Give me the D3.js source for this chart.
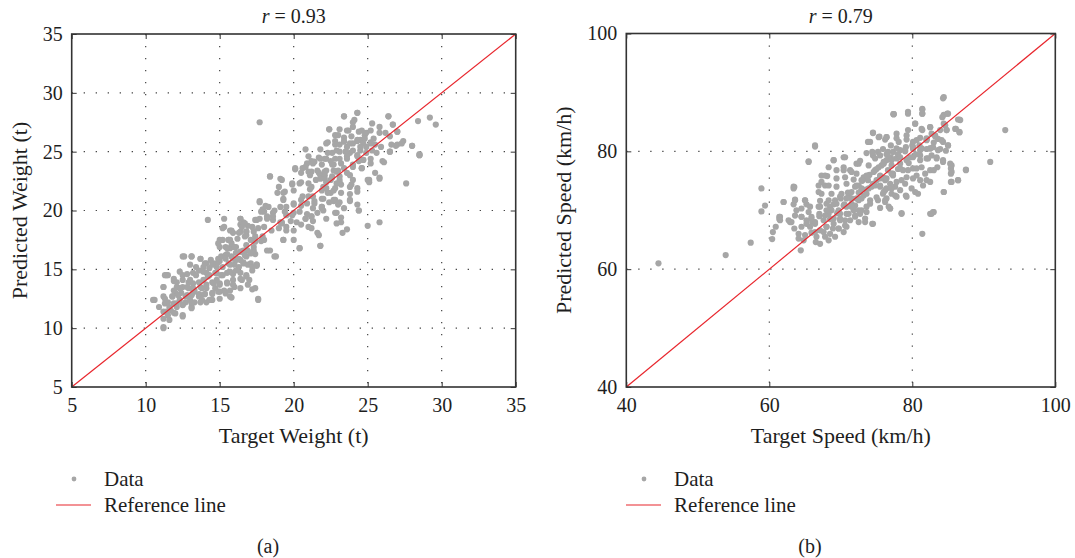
<!DOCTYPE html>
<html><head><meta charset="utf-8">
<script src="https://cdn.jsdelivr.net/npm/d3@7/dist/d3.min.js"></script>
<style>body{margin:0;background:#fff}svg{display:block}text{font-family:"Liberation Serif","Times New Roman",serif;fill:#1e1e1e}</style>
</head><body><svg id="c" width="1075" height="558"></svg>
<script>
// Panel (a): weight  [target, predicted]
const aTicks = [5,10,15,20,25,30,35];
const aPts = [
[17.7,27.5],[24.3,28.3],[23.4,28.0],[26.4,28.0],[29.2,27.9],[29.6,27.3],[28.4,27.6],[24.0,27.5],[25.3,27.4],[26.7,27.3],
[22.4,26.9],[23.1,26.9],[23.7,26.8],[24.4,26.7],[25.2,26.8],[24.8,26.4],[25.8,26.6],[27.0,26.7],[22.8,26.4],[23.4,26.2],
[24.5,26.0],[25.4,26.1],[26.5,26.3],[27.4,25.9],[28.0,25.5],[28.5,24.8],[27.0,25.6],[26.5,25.0],[26.0,24.2],[25.6,24.9],
[25.2,24.4],[22.3,25.8],[21.8,25.2],[23.1,25.6],[23.6,25.4],[24.0,25.7],[24.5,25.1],[24.9,25.4],[23.1,25.0],[23.8,24.9],
[24.3,24.6],[24.7,24.3],[24.6,23.6],[24.0,23.9],[22.6,24.9],[22.2,24.4],[21.7,24.5],[20.8,25.2],[21.2,24.2],[20.9,24.0],
[21.3,24.0],[20.6,23.6],[20.1,23.5],[21.2,23.3],[21.9,23.9],[22.2,23.4],[21.8,23.0],[22.9,23.3],[23.2,24.0],[23.6,23.2],
[22.6,22.8],[22.2,22.4],[21.5,22.6],[21.0,22.3],[20.5,22.4],[19.9,22.2],[19.2,22.6],[18.4,22.9],[19.0,22.0],[19.3,21.5],
[20.0,21.7],[21.1,21.8],[22.0,22.0],[22.9,22.3],[23.2,21.5],[22.5,21.5],[21.9,21.0],[21.3,21.2],[20.6,21.2],[23.8,22.0],
[24.3,21.9],[23.8,21.4],[25.1,22.6],[25.1,22.4],[25.8,22.8],[27.6,22.3],[23.8,20.8],[24.3,20.5],[24.4,20.0],[23.4,20.2],
[22.7,20.8],[21.9,20.3],[22.0,20.0],[21.3,20.2],[20.9,20.6],[20.5,20.4],[20.0,20.5],[19.5,20.3],[19.5,19.6],[20.0,19.8],
[20.4,19.9],[20.9,19.7],[21.2,19.5],[21.6,19.8],[21.3,19.1],[21.0,18.6],[22.2,19.3],[22.9,19.8],[23.2,19.4],[22.9,18.9],
[23.6,18.4],[23.3,18.1],[25.0,18.7],[25.8,19.0],[21.6,18.1],[21.8,17.0],[20.4,16.8],[19.3,17.5],[20.0,18.3],[19.5,18.6],
[19.2,18.9],[18.6,19.2],[18.6,19.8],[18.2,19.5],[19.1,20.3],[19.3,20.9],[18.9,21.5],[18.1,20.4],[17.7,20.8],[18.0,19.9],
[17.7,19.3],[17.4,19.2],[18.0,18.6],[18.5,18.3],[18.4,16.6],[18.8,16.1],[17.8,17.4],[18.0,17.5],[17.4,17.8],[17.3,18.2],
[16.8,17.9],[17.1,17.5],[17.3,16.9],[17.4,16.3],[16.9,16.6],[16.8,16.1],[16.4,19.3],[16.6,19.0],[16.4,18.8],[16.9,18.7],
[16.8,18.2],[16.4,18.2],[15.9,18.1],[15.7,18.3],[15.3,19.3],[15.3,18.6],[14.2,19.2],[15.2,17.5],[15.6,17.5],[15.0,16.9],
[15.4,16.9],[15.7,16.8],[16.1,16.9],[16.1,16.4],[16.5,16.5],[15.5,16.3],[15.1,16.1],[15.0,15.7],[15.9,15.9],[16.3,15.9],
[16.6,15.6],[17.1,15.5],[17.5,15.3],[17.2,14.9],[16.3,15.2],[16.0,15.4],[15.6,15.5],[15.2,15.2],[14.8,15.2],[14.6,15.5],
[14.1,15.5],[13.7,15.9],[13.1,16.1],[12.6,16.1],[13.9,15.2],[14.3,15.1],[13.6,14.9],[13.2,14.7],[14.1,14.7],[14.7,14.7],
[15.1,14.5],[15.5,14.7],[15.9,14.6],[16.4,14.7],[16.8,14.4],[16.5,14.1],[16.9,13.7],[17.2,13.3],[17.6,12.4],[15.9,14.1],
[15.5,13.9],[16.0,13.5],[15.7,13.2],[15.3,13.2],[15.0,13.8],[14.8,14.1],[14.5,13.9],[14.2,14.4],[13.9,14.1],[13.6,13.9],
[13.2,13.8],[12.9,13.9],[12.5,14.1],[12.1,13.9],[12.1,13.5],[12.5,13.5],[12.9,13.4],[13.3,13.2],[13.8,13.4],[14.1,13.4],
[14.7,13.4],[15.0,13.1],[14.5,13.0],[14.0,12.9],[13.7,12.8],[13.2,13.0],[12.8,12.8],[12.4,13.0],[12.0,13.0],[11.8,12.7],
[11.5,14.5],[11.3,14.5],[11.2,13.5],[11.2,12.7],[10.6,12.4],[10.9,11.8],[11.3,12.1],[11.5,12.2],[11.9,12.1],[12.3,12.4],
[12.7,12.2],[13.0,12.4],[13.3,12.2],[13.8,12.4],[14.1,12.2],[14.5,12.4],[13.6,12.7],[13.1,11.8],[12.5,12.0],[12.1,11.8],
[11.7,11.5],[11.4,11.4],[11.9,11.3],[12.5,11.0],[11.6,10.7],[11.2,10.8],[11.2,10.0],[15.8,12.6],[22.8,25.9],[23.4,25.9],
[23.9,26.3],[24.3,25.9],[24.7,25.7],[25.2,25.8],[25.5,25.6],[25.3,25.1],[24.4,24.2],[23.6,24.4],[22.8,24.4],[22.7,23.9],
[22.1,23.0],[21.6,23.4],[21.0,23.3],[23.1,22.6],[22.8,21.9],[24.0,22.6],[20.8,19.3],[20.2,19.0],[20.5,18.8],[19.8,19.1],
[22.4,20.7],[23.0,20.5],[17.9,17.8],[17.6,18.5],[15.8,17.2],[16.2,17.6],[14.9,17.2],[15.4,16.2],[14.4,15.8],[13.4,15.2],
[12.8,14.6],[12.3,14.8],[11.9,14.0],[13.0,15.4],[14.9,15.9],[16.7,16.2],[17.9,20.1],[19.1,19.0],[21.4,20.8],[24.9,24.9],
[25.9,25.4],[26.2,26.6],[26.9,25.5],[28.5,24.7],
[15.2,18.5],[16.5,18.6],[16.8,18.2],[15.0,17.5],[15.7,17.5],[15.5,16.8],[15.9,16.9],[16.4,16.5],[16.8,17.05],[17.3,16.6],
[12.5,16.1],[13.1,16.1],[13.7,15.9],[14.0,15.5],[14.5,15.4],[14.9,15.6],[15.4,15.9],[16.1,15.8],[16.6,15.5],[17.2,15.2],
[17.5,15.4],[11.4,14.5],[11.9,14.2],[12.5,14.5],[13.0,14.1],[13.4,14.5],[13.9,14.8],[14.3,14.5],[14.8,14.65],[15.2,14.5],
[15.7,14.8],[16.1,14.9],[16.4,14.2],[16.8,14.5],[17.0,14.1],[17.4,13.4],[16.4,13.4],[15.9,13.7],[15.5,13.8],[15.0,13.7],
[14.6,13.8],[14.1,13.7],[13.7,13.5],[13.2,13.4],[12.8,13.5],[12.3,13.4],[11.9,13.2],[11.2,13.5],[11.3,12.5],[10.5,12.4],
[11.8,12.7],[12.2,12.8],[12.7,12.7],[13.1,12.8],[13.6,12.9],[14.0,12.9],[14.5,12.9],[14.9,13.1],[15.4,12.95],[15.7,12.7],
[15.0,12.5],[14.3,12.4],[13.7,12.2],[13.1,12.1],[12.5,11.96],[12.1,12.1],[11.6,11.8],[11.2,11.4],[11.5,11.1],[12.0,11.25],
[12.5,11.1],[11.2,10.1],[13.1,11.7],[17.6,12.5],
[21.0,24.6],[21.4,24.15],[22.1,24.4],[22.6,23.9],[23.0,23.4],[20.8,23.7],[20.1,23.6],[20.5,23.2],[21.1,23.0],[21.7,23.2],
[22.1,22.7],[22.6,22.9],[23.1,22.4],[19.1,22.7],[18.4,22.9],[19.9,22.3],[20.4,22.3],[21.2,22.0],[21.9,21.7],[22.3,21.5],
[22.8,20.9],[19.4,21.6],[19.3,21.0],[20.0,20.6],[20.5,20.9],[21.0,21.2],[21.4,20.6],[21.9,20.2],[21.2,19.5],[20.8,19.3],
[19.9,19.6],[19.4,19.9],[18.7,20.0],[18.3,20.3],[17.7,20.7],[17.8,19.9],[17.5,19.2],[18.2,19.3],[18.6,19.5],[19.2,19.0],
[19.0,18.5],[19.5,18.3],[19.3,17.5],[20.0,17.5],[20.4,16.8],[18.7,16.1],[18.2,16.6],[17.4,17.35],[16.7,17.8],[16.3,18.1],
[15.8,18.3],[16.4,19.3],[16.7,18.9],[17.2,18.6],[15.6,17.5],[16.0,16.9],[16.6,16.6],[17.1,16.35],[15.8,16.1],[16.4,15.8],
[16.9,15.4],[17.5,15.4],[15.7,15.4],[21.2,18.5],[21.7,17.9],[21.8,17.0],[22.8,19.8],[23.2,19.0],
[23.4,28.0],[24.3,28.3],[24.1,27.7],[22.4,26.9],[23.0,26.4],[23.6,26.8],[24.0,27.1],[24.6,26.8],[24.9,26.6],[25.8,27.1],
[26.4,28.0],[26.7,27.3],[27.0,26.7],[22.2,25.7],[22.8,25.6],[23.4,25.85],[23.8,25.7],[24.3,26.0],[24.8,26.1],[25.2,25.7],
[24.5,25.4],[24.0,25.1],[23.5,25.0],[22.9,25.1],[22.3,24.9],[21.8,24.4],[22.5,24.2],[23.1,24.4],[23.6,24.6],[24.3,24.7],
[24.7,24.3],[25.2,24.0],[24.6,23.6],[24.0,23.7],[23.4,23.6],[22.7,23.4],[22.1,23.3],[21.8,22.7],[22.5,22.6],[23.1,22.9],
[23.8,23.0],[23.2,22.2],[22.7,21.7],[22.2,21.9],[23.9,22.2],[24.3,21.6],[23.8,20.9],[23.1,20.7],[22.7,20.9],[22.0,21.0],
[21.9,20.3],[24.4,20.0],[25.8,22.7],[26.6,25.6],[27.3,25.7],[28.0,25.5],[28.5,24.7],[26.1,24.1],[26.5,25.0],[25.5,23.2],
[25.0,22.6]
];
const aTarget = aPts.map(p => p[0]);
const aPred = aPts.map(p => p[1]);

// Panel (b): speed  [target, predicted]
const bTicks = [40,60,80,100];
const bPts = [
[44.5,61.0],[53.9,62.4],[57.4,64.5],[58.9,73.7],[59.4,70.8],[58.9,69.8],[60.4,65.1],[60.9,67.2],[61.4,68.9],[61.4,68.5],
[62.0,71.4],[62.9,68.0],[84.4,89.2],[81.4,87.2],[81.4,86.4],[79.4,86.7],[79.4,86.4],[77.4,86.3],[84.4,86.2],[84.9,86.4],
[86.4,85.4],[86.7,85.3],[86.0,83.8],[86.6,83.3],[80.4,84.7],[82.5,84.1],[81.3,83.8],[84.4,84.7],[83.9,83.6],[84.8,83.6],
[83.2,82.5],[79.4,83.6],[77.8,83.0],[76.4,82.4],[74.5,83.1],[75.4,82.5],[73.8,81.6],[75.9,80.4],[77.0,81.0],[78.1,81.6],
[79.2,82.0],[80.1,81.6],[81.1,82.3],[82.0,81.9],[82.7,83.0],[83.6,82.1],[84.3,81.6],[85.0,81.0],[84.7,80.1],[83.9,80.4],
[82.9,80.7],[82.0,80.4],[81.1,80.2],[80.1,80.4],[79.1,80.7],[78.3,80.2],[77.3,79.9],[76.4,79.5],[75.2,79.9],[74.5,79.3],
[73.6,79.7],[72.7,78.4],[72.2,77.9],[70.4,79.0],[69.0,78.5],[65.5,78.3],[66.4,80.8],[64.4,63.2],[63.4,74.0],[63.4,73.7],
[63.6,71.8],[65.0,71.7],[65.2,71.0],[63.6,69.1],[64.5,70.3],[65.7,70.6],[64.5,68.9],[65.2,68.3],[65.7,67.2],[64.5,67.2],
[63.1,68.0],[63.5,66.9],[64.1,66.0],[65.0,65.8],[65.9,66.2],[64.1,65.2],[64.8,64.9],[66.6,65.5],[67.1,66.6],[66.4,68.0],
[67.0,69.4],[67.1,70.6],[67.1,71.6],[67.3,72.8],[66.9,74.2],[67.3,75.9],[68.1,75.8],[67.8,74.2],[67.6,68.3],[68.0,67.2],
[66.5,64.6],[67.8,65.5],[68.5,66.0],[68.9,66.9],[68.3,69.4],[68.5,70.6],[69.2,71.7],[68.7,72.8],[69.4,74.0],[69.9,72.3],
[70.4,70.8],[69.9,69.4],[69.9,68.3],[69.7,66.9],[70.4,66.3],[69.2,65.5],[70.8,67.2],[71.3,68.3],[71.1,69.4],[71.8,70.0],
[71.5,71.1],[71.1,72.5],[70.8,74.5],[70.6,75.6],[71.8,75.2],[72.5,74.2],[72.7,73.1],[72.9,72.0],[72.2,72.0],[72.0,70.8],
[72.7,69.4],[73.4,68.0],[74.4,67.7],[73.6,69.7],[73.6,70.6],[74.1,71.7],[73.6,72.8],[74.3,74.0],[73.8,75.1],[73.2,75.6],
[72.2,76.2],[71.3,76.8],[70.4,77.3],[69.4,76.8],[68.3,77.3],[75.0,75.1],[75.5,75.9],[74.8,76.8],[75.7,77.6],[76.4,78.5],
[77.1,77.6],[77.8,78.8],[76.6,76.8],[77.3,75.9],[76.2,75.1],[75.5,74.0],[76.4,73.7],[77.6,74.0],[78.5,75.1],[79.2,75.6],
[78.7,76.8],[78.3,77.9],[79.2,78.5],[80.1,79.0],[81.1,78.5],[82.0,78.8],[82.7,79.3],[83.4,79.0],[84.3,78.5],[85.3,77.9],
[85.4,77.1],[85.4,76.2],[87.5,76.9],[86.4,75.1],[84.4,73.1],[83.5,77.3],[82.5,76.8],[81.3,77.3],[80.1,77.1],[80.6,75.9],
[82.0,75.1],[81.1,75.1],[79.9,73.7],[79.1,72.5],[80.8,72.8],[82.7,69.4],[82.9,69.7],[81.4,66.0],[78.5,69.5],[76.9,70.3],
[75.5,70.4],[75.2,71.7],[74.5,67.7],[77.1,72.8],[76.4,72.0],[75.9,72.8],[77.8,72.3],[65.9,68.9],[66.4,66.3],[67.6,66.3],
[68.3,64.9],[67.1,64.3],[68.0,71.1],[69.0,68.6],[69.7,70.0],[70.6,68.3],[70.8,70.6],[72.0,68.9],[72.5,70.0],[72.9,73.7],
[85.4,74.8],[93.0,83.6],[90.9,78.2],[72.0,74.0],[73.0,75.0],[74.0,76.0],[75.0,77.0],[76.0,78.0],[77.0,79.0],[78.0,79.5],
[79.0,80.0],[80.0,81.0],[81.0,81.0],[82.0,82.0],[83.0,81.5],[71.0,73.0],[70.0,72.0],[69.0,71.0],[68.0,70.0],[67.0,69.0],
[66.0,68.0],[70.5,71.0],[73.5,73.5],[74.5,74.5],[76.0,75.5],[78.0,77.0],[79.5,78.0],[80.5,79.5],[82.5,80.5],[68.5,68.5],
[69.5,69.5],[71.5,72.0],[72.5,73.0],[60.5,66.3],[63.4,71.0],
[77.35,86.3],[74.5,83.2],[66.4,81.0],[65.5,78.2],[69.0,78.5],[70.6,79.0],[74.1,81.6],[75.3,82.4],[76.2,82.0],[74.4,79.9],
[74.8,78.8],[73.9,77.6],[72.5,77.9],[71.5,76.5],[70.4,76.8],[69.4,75.4],[67.8,75.9],[67.3,74.8],[68.3,74.2],[66.9,73.1],
[63.5,73.95],[63.6,71.7],[62.0,71.4],[63.8,70.0],[65.0,71.7],[64.5,68.9],[65.5,69.7],[65.9,68.6],[66.9,70.6],[68.3,71.7],
[68.7,70.0],[69.4,71.1],[70.1,72.8],[70.8,72.0],[71.5,73.1],[72.2,74.2],[72.9,75.1],[73.6,75.9],[74.6,76.5],[75.3,77.3],
[76.0,78.2],[76.7,79.0],[75.5,75.4],[74.8,74.2],[73.9,73.7],[73.2,72.5],[72.5,71.7],[71.5,70.6],[70.8,69.4],[69.9,68.6],
[69.0,67.7],[68.0,67.2],[67.8,69.1],[72.0,69.1],[72.9,70.0],[74.1,71.1],[75.0,72.2],[76.2,73.4],[76.9,74.5],[77.1,76.2],
[76.7,70.6],[76.2,71.4],[73.4,68.6],[72.5,68.0],[70.6,67.4],[69.7,66.9],[62.7,68.3],[61.5,68.9],[61.5,68.3],[65.2,67.7],
[66.4,67.7],
[84.3,89.0],[81.4,87.1],[81.4,86.4],[77.4,86.3],[84.2,85.8],[85.0,86.4],[86.6,85.4],[86.1,83.8],[86.6,83.2],[80.4,84.7],
[82.5,84.1],[81.4,83.6],[84.6,84.4],[84.8,83.6],[76.4,82.4],[77.8,82.2],[79.2,82.7],[80.6,81.9],[82.0,82.2],[83.2,82.7],
[84.1,81.9],[85.0,81.0],[83.6,80.2],[82.5,80.5],[81.3,80.5],[80.1,80.7],[79.0,80.2],[77.8,80.5],[76.6,79.9],[75.5,79.3],
[76.0,77.9],[77.1,78.5],[78.3,79.0],[79.7,79.0],[81.1,79.3],[82.2,78.8],[83.4,78.8],[84.3,78.2],[85.5,77.6],[85.5,76.5],
[85.5,74.8],[87.5,76.8],[86.4,75.1],[84.4,73.1],[83.0,76.8],[81.8,76.2],[80.6,77.1],[79.4,76.8],[78.3,77.1],[77.3,76.2],
[76.4,75.4],[75.5,75.7],[77.8,74.8],[79.0,74.5],[80.1,75.4],[81.5,74.2],[80.4,73.1],[79.2,72.3],[78.3,73.4],[77.1,73.7],
[76.0,73.1],[76.2,71.7],[77.6,72.5],[82.5,69.4],[83.0,69.7],[75.5,74.2],[76.9,70.3],[78.5,69.4],[82.5,74.8]
];
const bTarget = bPts.map(p => p[0]);
const bPred = bPts.map(p => p[1]);

const svg = d3.select("#c");
const dotColor = "#a6a6a6", refColor = "#e8262d";
const FONT = "Liberation Serif";

function panel(o) {
  const x = d3.scaleLinear().domain(o.domain).range([o.left, o.right]);
  const y = d3.scaleLinear().domain(o.domain).range([o.bottom, o.top]);
  const g = svg.append("g");
  const inner = o.ticks.slice(1, -1);
  g.selectAll(".gx").data(inner).join("line")
    .attr("x1", d => x(d)).attr("x2", d => x(d)).attr("y1", o.top).attr("y2", o.bottom)
    .attr("stroke", "#333").attr("stroke-width", 1.1).attr("stroke-dasharray", "1.2,10.8");
  g.selectAll(".gy").data(inner).join("line")
    .attr("y1", d => y(d)).attr("y2", d => y(d)).attr("x1", o.left).attr("x2", o.right)
    .attr("stroke", "#333").attr("stroke-width", 1.1).attr("stroke-dasharray", "1.2,10.8");
  g.selectAll("circle.pt").data(o.xs.map((v, i) => [v, o.ys[i]])).join("circle")
    .attr("cx", d => x(d[0])).attr("cy", d => y(d[1])).attr("r", 3.1).attr("fill", dotColor);
  g.append("line").attr("x1", x(o.domain[0])).attr("y1", y(o.domain[0]))
    .attr("x2", x(o.domain[1])).attr("y2", y(o.domain[1]))
    .attr("stroke", refColor).attr("stroke-width", 1.2);
  const gx = g.append("g").attr("transform", `translate(0,${o.bottom})`)
    .call(d3.axisBottom(x).tickValues(o.ticks).tickSize(-5).tickPadding(11));
  const gy = g.append("g").attr("transform", `translate(${o.left},0)`)
    .call(d3.axisLeft(y).tickValues(o.ticks).tickSize(-5).tickPadding(9));
  g.append("g").attr("transform", `translate(0,${o.top})`).call(d3.axisTop(x).tickValues(o.ticks).tickSize(-5).tickFormat(""));
  g.append("g").attr("transform", `translate(${o.right},0)`).call(d3.axisRight(y).tickValues(o.ticks).tickSize(-5).tickFormat(""));
  g.selectAll(".domain").remove();
  g.selectAll(".tick line").attr("stroke", "#333").attr("stroke-width", 1);
  gx.selectAll("text").attr("font-size", 20).attr("fill", "#1e1e1e").attr("font-family", FONT);
  gy.selectAll("text").attr("font-size", 20).attr("fill", "#1e1e1e").attr("font-family", FONT);
  g.append("rect").attr("x", o.left).attr("y", o.top).attr("width", o.right - o.left).attr("height", o.bottom - o.top)
    .attr("fill", "none").attr("stroke", "#333").attr("stroke-width", 1.6);
  const cx = (o.left + o.right) / 2;
  const t = g.append("text").attr("x", cx).attr("y", 23).attr("text-anchor", "middle").attr("font-size", 20);
  t.append("tspan").attr("font-style", "italic").text("r");
  t.append("tspan").text(" = " + o.r);
  g.append("text").attr("x", cx).attr("y", 443).attr("text-anchor", "middle").attr("font-size", 22).text(o.xlabel);
  g.append("text").attr("transform", `translate(${o.ylx},${(o.top + o.bottom) / 2}) rotate(-90)`)
    .attr("text-anchor", "middle").attr("font-size", 22).text(o.ylabel);
  g.append("circle").attr("cx", o.legX + 18).attr("cy", 479).attr("r", 2.4).attr("fill", dotColor);
  g.append("text").attr("x", o.legX + 48).attr("y", 486).attr("font-size", 21).text("Data");
  g.append("line").attr("x1", o.legX).attr("x2", o.legX + 35).attr("y1", 505).attr("y2", 505)
    .attr("stroke", refColor).attr("stroke-width", 1.2);
  g.append("text").attr("x", o.legX + 48).attr("y", 512).attr("font-size", 21).text("Reference line");
  g.append("text").attr("x", o.capX).attr("y", 553).attr("text-anchor", "middle").attr("font-size", 20).text(o.cap);
}

panel({domain: [5, 35], ticks: aTicks, xs: aTarget, ys: aPred, left: 71.7, right: 515.7, top: 34, bottom: 387,
  r: "0.93", xlabel: "Target Weight (t)", ylabel: "Predicted Weight (t)", ylx: 27, legX: 56, capX: 268, cap: "(a)"});
panel({domain: [40, 100], ticks: bTicks, xs: bTarget, ys: bPred, left: 626.3, right: 1055.3, top: 33.5, bottom: 387,
  r: "0.79", xlabel: "Target Speed (km/h)", ylabel: "Predicted Speed (km/h)", ylx: 571, legX: 626, capX: 810, cap: "(b)"});
</script></body></html>
